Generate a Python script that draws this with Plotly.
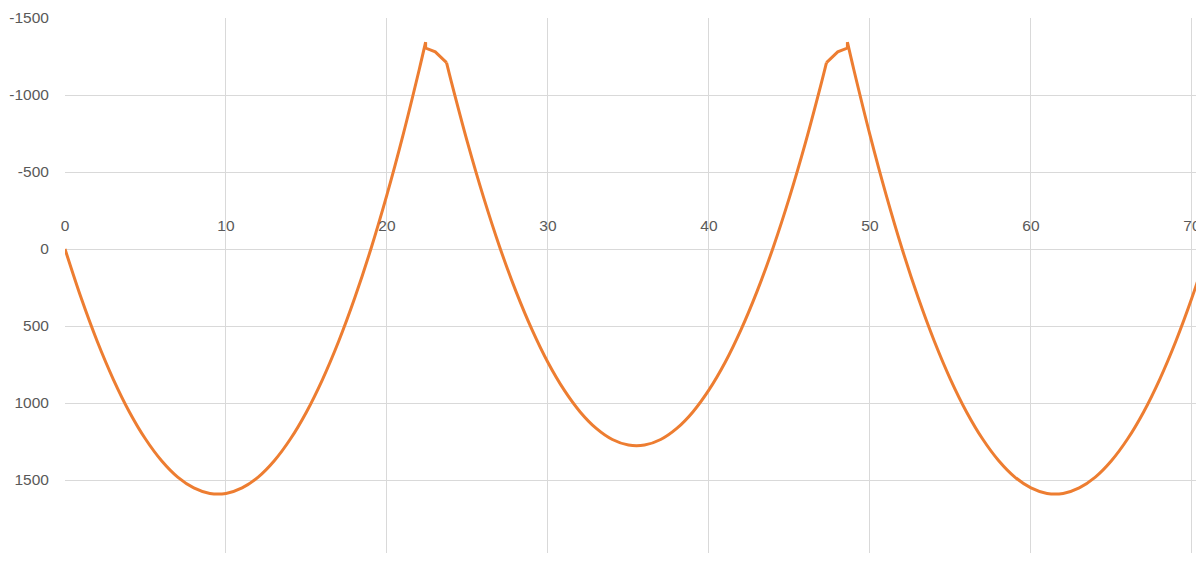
import plotly.graph_objects as go

# Span 1 (0 .. 22.4), support 1, span 2, support 2, span 3
x_vals = [0, 1, 2, 3, 4, 5, 6, 7, 8, 9, 10, 11, 12, 13, 14, 15, 16, 17, 18, 19, 20, 21, 22, 22.4,
          22.4, 23.0, 23.7,
          24, 25, 26, 27, 28, 29, 30, 31, 32, 33, 34, 35, 36, 37, 38, 39, 40, 41, 42, 43, 44, 45, 46, 47, 47.3,
          48.0, 48.6, 48.6,
          49, 50, 51, 52, 53, 54, 55, 56, 57, 58, 59, 60, 61, 62, 63, 64, 65, 66, 67, 68, 69, 70, 71]
m_vals = [0, 317, 599, 846, 1058, 1234, 1375, 1481, 1551, 1587, 1587, 1551, 1481, 1375, 1234, 1058, 846, 599, 317, 0, -353, -741, -1164, -1343,
          -1305, -1280, -1210,
          -1085, -692, -335, -13, 272, 522, 737, 915, 1058, 1165, 1237, 1273, 1273, 1237, 1165, 1058, 915, 737, 522, 272, -13, -335, -692, -1085, -1210,
          -1280, -1305, -1343,
          -1164, -741, -353, 0, 317, 599, 846, 1058, 1234, 1375, 1481, 1551, 1587, 1587, 1551, 1481, 1375, 1234, 1058, 846, 599, 317, 0]

y_ticks = [-1500, -1000, -500, 0, 500, 1000, 1500, 2000]
y_labels = ["-1500", "-1000", "-500", "0", "500", "1000", "1500", "2000"]
x_ticks = [0, 10, 20, 30, 40, 50, 60, 70]
x_labels = ["0", "10", "20", "30", "40", "50", "60", "70"]

# pieces: smooth spans and straight support segments
pieces = [(0, 24, "spline"), (23, 27, "linear"), (26, 52, "spline"), (51, 55, "linear"), (54, len(x_vals), "spline")]

fig = go.Figure()
for a, b, shp in pieces:
    fig.add_trace(go.Scatter(x=x_vals[a:b], y=m_vals[a:b], mode="lines",
                             line=dict(color="#ED7D31", width=3, shape=shp, smoothing=1.0 if shp == "spline" else None),
                             showlegend=False))

grid = "#d9d9d9"
font_col = "#595959"
y_bottom = 1974
fig.update_layout(
    width=1196, height=545,
    margin=dict(l=57, r=0, t=10, b=0),
    paper_bgcolor="white", plot_bgcolor="white",
    font=dict(family="Liberation Sans, Arial, sans-serif", size=15.5, color=font_col),
    xaxis=dict(range=[0, 70.75], tickmode="array", tickvals=x_ticks, ticktext=x_labels,
               showgrid=True, gridcolor=grid, gridwidth=1, zeroline=False,
               showline=False, side="top", anchor="free", position=y_bottom / (y_bottom + 1500),
               ticks="outside", ticklen=12, tickcolor="rgba(0,0,0,0)",
               tickfont=dict(size=15.5, color=font_col)),
    yaxis=dict(range=[y_bottom, -1500], tickmode="array", tickvals=y_ticks, ticktext=y_labels,
               showgrid=True, gridcolor=grid, gridwidth=1, zeroline=False,
               showline=False, ticks="outside", ticklen=12, tickcolor="rgba(0,0,0,0)",
               tickfont=dict(size=15.5, color=font_col)),
)

fig.write_html("out.html")
